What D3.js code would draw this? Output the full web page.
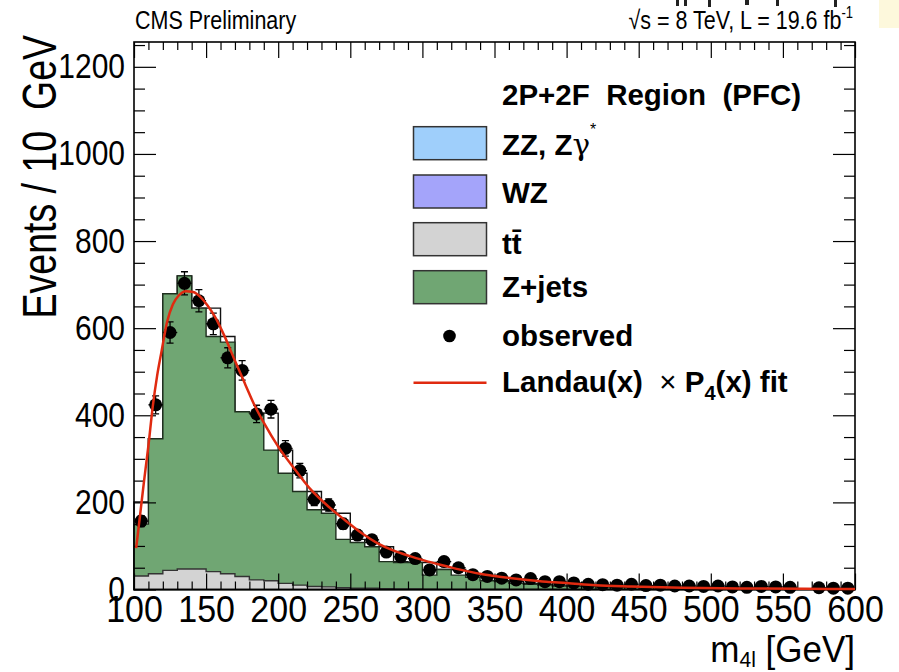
<!DOCTYPE html>
<html>
<head>
<meta charset="utf-8">
<script src="https://cdn.jsdelivr.net/npm/d3@7"></script>
<style>
body { margin: 0; background: #fff; }
text { font-family: "Liberation Sans", Arial, Helvetica, sans-serif; }
</style>
</head>
<body>
<div id="chart"></div>
<script>
// taille du canevas et du cadre
var width = 899
var height = 672
var frame = {left: 134, right: 855, top: 42, bottom: 589.5}

// bords inferieurs des bins (10 GeV)
var binLow = [100,110,120,130,140,150,160,170,180,190,200,210,220,230,240,250,260,270,280,290,
              300,310,320,330,340,350,360,370,380,390,400,410,420,430,440,450,460,470,480,490,
              500,510,520,530,540,550,560,570,580,590]

// ttbar (gris, bas de la pile)
var ttbar = [31,36,44,47,47,41,36,30,22,20,14,10,7,6,4,3,3,2,1.5,1,
             0.5,0.4,0.3,0.3,0.2,0.2,0.2,0.1,0.1,0.1,0,0,0,0,0,0,0,0,0,0,
             0,0,0,0,0,0,0,0,0,0]

// Z+jets (vert, empile sur ttbar)
var zjets = [119,310,635,673,599,540,532,378,383,300,253,215,176,169,111,105,95,62,60.5,61,
             32.5,45.6,32.7,27.7,19.8,17.8,13.8,11.9,9.9,7.9,7,7,6,5,5,4,4,3,3,3,
             2,2,2,2,1.5,1.5,1,1,1,1]

// histogramme en trait (contour noir)
var outline = [201,346,679,720,646,646,581,408,405,405,320,267,225,183,175,115,108,98,64,62,
               62,46,46,33,28,20,18,14,12,10,8,7,7,6,5,5,4,4,3,3,
               3,2,2,2,2,1.5,1.5,1,1,1]

// donnees observees et erreurs
var observed = [157,424,590,703,663,610,532,503,403,414,324,273,207,194,151,125,114,86,75,71,
                45,64,50,34,30,26,22,25,18,18,15,12,11,10,12,9,10,8,8,7,
                8,6,5,7,6,5,0,4,3,3]
var obsErr = [12.5,20.6,24.3,26.5,25.7,24.7,23,22.4,20,20.3,18,16.5,14.4,13.9,12.3,11.2,10.7,9.3,8.7,8.4,
              6.7,8,7.1,5.8,5.5,5.1,4.7,5,4.2,4.2,3.9,3.5,3.3,3.2,3.5,3,3.2,2.8,2.8,2.6,
              2.8,2.4,2.2,2.6,2.4,2.2,0,2,1.7,1.7]

// ajustement Landau x P4
var fitM = [101.5,104,107,110,113,116,119,123,127,131,136,141,146,151,156,163,170,177,184,190,
            200,212,223,235,246,258,269,281,292,304,316,327,340,350,362,373,386,400,420,445,
            480,520,565,600]
var fitV = [95,165,250,330,420,490,545,615,655,675,685,683,672,652,627,580,525,472,420,383,
            328,274,228,190,160,129,106,88,76,64,54,45,36,31,26,22,18,15,10,7,
            4,2.5,1.5,1]

var xTicks = [100,150,200,250,300,350,400,450,500,550,600]
var yTicks = [0,200,400,600,800,1000,1200]

var svg = d3.select('#chart')
    .append('svg')
    .attr('width', width)
    .attr('height', height)

var x = d3.scaleLinear().domain([100, 600]).range([frame.left, frame.right])
var y = d3.scaleLinear().domain([0, 1257]).range([frame.bottom, frame.top])

// chemin en escalier pour un histogramme
function stepPath(vals){
    var p = 'M' + x(binLow[0]) + ',' + y(0)
    vals.forEach(function(v, i){
        p += 'L' + x(binLow[i]) + ',' + y(v) + 'L' + x(binLow[i] + 10) + ',' + y(v)
    })
    p += 'L' + x(600) + ',' + y(0) + 'Z'
    return p
}

var stackTop = zjets.map(function(v, i){ return v + ttbar[i] })

var hist = svg.append('g')
hist.append('path').attr('d', stepPath(outline))
    .attr('fill', '#fff').attr('stroke', '#111').attr('stroke-width', 1.4)
hist.append('path').attr('d', stepPath(stackTop))
    .attr('fill', '#70a673').attr('stroke', '#1e2e1e').attr('stroke-width', 1.4)
hist.append('path').attr('d', stepPath(ttbar))
    .attr('fill', '#d3d3d3').attr('stroke', '#333').attr('stroke-width', 1.4)

// axes (ticks vers l'interieur)
var xMinor = d3.range(110, 600, 10).filter(function(d){ return d % 50 != 0 })
var yMinor = d3.range(50, 1257, 50).filter(function(d){ return d % 200 != 0 })

function styleAxis(g){
    g.select('.domain').remove()
    g.selectAll('line').attr('stroke', '#000').attr('stroke-width', 1.2)
}

svg.append('g').attr('transform', 'translate(0,' + frame.bottom + ')')
    .call(d3.axisBottom(x).tickValues(xTicks).tickSize(-16).tickPadding(6).tickFormat(d3.format('d')))
    .call(styleAxis)
    .selectAll('text').attr('font-size', 34).attr('fill', '#000')
        .attr('font-family', '"Liberation Sans", Arial, sans-serif')
        .attr('transform', 'scale(1,1.08)')
svg.append('g').attr('transform', 'translate(0,' + frame.bottom + ')')
    .call(d3.axisBottom(x).tickValues(xMinor).tickSize(-8).tickFormat(''))
    .call(styleAxis)
svg.append('g').attr('transform', 'translate(0,' + frame.top + ')')
    .call(d3.axisTop(x).tickValues(xTicks).tickSize(-16).tickFormat(''))
    .call(styleAxis)
svg.append('g').attr('transform', 'translate(0,' + frame.top + ')')
    .call(d3.axisTop(x).tickValues(xMinor).tickSize(-8).tickFormat(''))
    .call(styleAxis)

svg.append('g').attr('transform', 'translate(' + frame.left + ',0)')
    .call(d3.axisLeft(y).tickValues(yTicks).tickSize(-22).tickPadding(9).tickFormat(d3.format('d')))
    .call(styleAxis)
    .selectAll('text').attr('font-size', 30).attr('fill', '#000')
        .attr('font-family', '"Liberation Sans", Arial, sans-serif')
        .attr('transform', 'scale(1,1.15)')
svg.append('g').attr('transform', 'translate(' + frame.left + ',0)')
    .call(d3.axisLeft(y).tickValues(yMinor).tickSize(-11).tickFormat(''))
    .call(styleAxis)
svg.append('g').attr('transform', 'translate(' + frame.right + ',0)')
    .call(d3.axisRight(y).tickValues(yTicks).tickSize(-22).tickFormat(''))
    .call(styleAxis)
svg.append('g').attr('transform', 'translate(' + frame.right + ',0)')
    .call(d3.axisRight(y).tickValues(yMinor).tickSize(-11).tickFormat(''))
    .call(styleAxis)

// cadre
svg.append('rect')
    .attr('x', frame.left).attr('y', frame.top)
    .attr('width', frame.right - frame.left).attr('height', frame.bottom - frame.top)
    .attr('fill', 'none').attr('stroke', '#000').attr('stroke-width', 1.6)

// points observes
var pts = binLow.map(function(b, i){ return {lo: b, v: observed[i], e: obsErr[i]} })
    .filter(function(d){ return d.v > 0 })
var dataG = svg.append('g')
dataG.selectAll('line.ey').data(pts).enter().append('line')
    .attr('x1', function(d){ return x(d.lo + 5) }).attr('x2', function(d){ return x(d.lo + 5) })
    .attr('y1', function(d){ return y(d.v - d.e) }).attr('y2', function(d){ return y(d.v + d.e) })
    .attr('stroke', '#000').attr('stroke-width', 1.3)
dataG.selectAll('line.ex').data(pts).enter().append('line')
    .attr('x1', function(d){ return x(d.lo) }).attr('x2', function(d){ return x(d.lo + 10) })
    .attr('y1', function(d){ return y(d.v) }).attr('y2', function(d){ return y(d.v) })
    .attr('stroke', '#000').attr('stroke-width', 1.3)
dataG.selectAll('path.cap').data(pts).enter().append('path')
    .attr('d', function(d){
        var cx = x(d.lo + 5)
        return 'M' + (cx - 3.5) + ',' + y(d.v + d.e) + 'H' + (cx + 3.5) +
               'M' + (cx - 3.5) + ',' + y(d.v - d.e) + 'H' + (cx + 3.5)
    })
    .attr('stroke', '#000').attr('stroke-width', 1.3)
dataG.selectAll('circle').data(pts).enter().append('circle')
    .attr('cx', function(d){ return x(d.lo + 5) })
    .attr('cy', function(d){ return y(d.v) })
    .attr('r', 6.5).attr('fill', '#000')

// courbe d'ajustement
var fitLine = d3.line().x(function(d){ return x(d[0]) }).y(function(d){ return y(d[1]) }).curve(d3.curveMonotoneX)
svg.append('path').datum(fitM.map(function(m, i){ return [m, fitV[i]] }))
    .attr('d', fitLine).attr('fill', 'none').attr('stroke', '#e02a10').attr('stroke-width', 2.5)

// legende
var leg = svg.append('g').attr('font-weight', 'bold').attr('font-size', 29.5)
leg.append('text').attr('x', 502).attr('y', 104.5).style('white-space', 'pre')
    .text('2P+2F  Region  (PFC)')
var legBoxes = [
    {fill: '#9fcffb', y: 126.7},
    {fill: '#a4a4fa', y: 175},
    {fill: '#d3d3d3', y: 222.7},
    {fill: '#70a673', y: 270.7}
]
leg.selectAll('rect').data(legBoxes).enter().append('rect')
    .attr('x', 413.5).attr('y', function(d){ return d.y })
    .attr('width', 73).attr('height', 33)
    .attr('fill', function(d){ return d.fill }).attr('stroke', '#333').attr('stroke-width', 1.5)

var t1 = leg.append('text').attr('x', 502).attr('y', 155)
t1.append('tspan').text('ZZ, Z')
t1.append('tspan').attr('font-weight', 'normal').attr('font-family', '"DejaVu Serif", serif').text('γ')
t1.append('tspan').attr('font-weight', 'normal').attr('font-size', 16).attr('dy', -20).text('*')
leg.append('text').attr('x', 502).attr('y', 203).text('WZ')
leg.append('text').attr('x', 502).attr('y', 254).text('tt\u0304')
leg.append('text').attr('x', 502).attr('y', 297).text('Z+jets')
leg.append('circle').attr('cx', 449.5).attr('cy', 336).attr('r', 6.3).attr('fill', '#000')
leg.append('text').attr('x', 502).attr('y', 346).text('observed')
leg.append('line').attr('x1', 413.5).attr('x2', 486.5).attr('y1', 382.7).attr('y2', 382.7)
    .attr('stroke', '#e02a10').attr('stroke-width', 2.5)
var t2 = leg.append('text').attr('x', 502).attr('y', 391.5).style('white-space', 'pre')
t2.append('tspan').text('Landau(x)  ')
t2.append('tspan').attr('font-weight', 'normal').text('×')
t2.append('tspan').text(' P')
t2.append('tspan').attr('font-size', 20).attr('dy', 8).text('4')
t2.append('tspan').attr('dy', -8).text('(x) fit')

// titres
svg.append('text').attr('transform', 'translate(135,29) scale(1,1.2)')
    .attr('font-size', 21.5).text('CMS Preliminary')
var lumi = svg.append('text').attr('transform', 'translate(853,29) scale(1,1.2)')
    .attr('font-size', 21.5).attr('text-anchor', 'end')
lumi.append('tspan').text('√s = 8 TeV, L = 19.6 fb')
lumi.append('tspan').attr('font-size', 13).attr('dy', -9).text('-1')

svg.append('text')
    .attr('transform', 'translate(55.5,35) rotate(-90) scale(1,1.28)')
    .attr('text-anchor', 'end').attr('font-size', 37.5).style('white-space', 'pre')
    .text('Events / 10  GeV')

var xt = svg.append('text').attr('transform', 'translate(855,662) scale(1,1.05)')
    .attr('text-anchor', 'end').attr('font-size', 35)
xt.append('tspan').text('m')
xt.append('tspan').attr('font-size', 21).attr('dy', 5).text('4l')
xt.append('tspan').attr('dy', -5).text(' [GeV]')

// restes en haut a droite
svg.append('rect').attr('x', 879).attr('y', 0).attr('width', 20).attr('height', 28).attr('fill', '#fdf8dc')
var scraps = [[676, 3, 6], [684, 3, 6], [708, 3, 7], [745, 4, 5], [776, 3, 6], [834, 3, 7]]
svg.append('g').selectAll('rect').data(scraps).enter().append('rect')
    .attr('x', function(d){ return d[0] }).attr('y', 0)
    .attr('width', function(d){ return d[1] }).attr('height', function(d){ return d[2] })
    .attr('fill', '#222')
</script>
</body>
</html>
